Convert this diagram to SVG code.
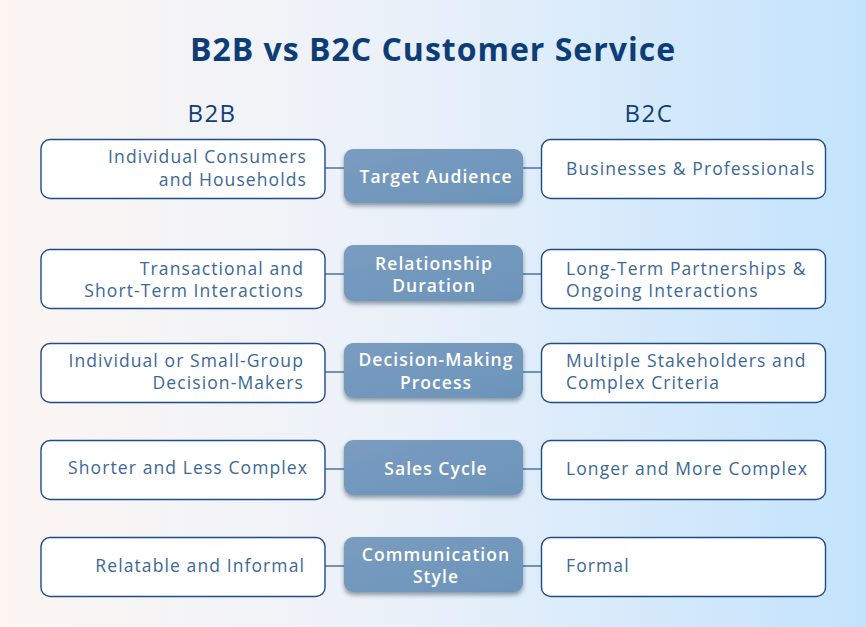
<svg xmlns="http://www.w3.org/2000/svg" width="866" height="627" viewBox="0 0 866 627">
<defs>
<linearGradient id="bg" x1="0" y1="0" x2="1" y2="0">
<stop offset="0" stop-color="#fdf6f3"/>
<stop offset="0.45" stop-color="#ebf1f9"/>
<stop offset="1" stop-color="#c3e3fc"/>
</linearGradient>
<linearGradient id="mid" x1="0" y1="0" x2="1" y2="1">
<stop offset="0" stop-color="#7a9cc0"/>
<stop offset="1" stop-color="#6c94ba"/>
</linearGradient>
<filter id="sh" x="-10%" y="-20%" width="120%" height="150%">
<feDropShadow dx="0" dy="3" stdDeviation="2.2" flood-color="#1b2b40" flood-opacity="0.45"/>
</filter>
<style>
.box{fill:#ffffff;stroke:#1d4c86;stroke-width:1.4}
.mbox{fill:url(#mid);filter:url(#sh)}
.con{stroke:#4a74a3;stroke-width:1.5;fill:none}
.t{font-family:"Open Sans","Noto Sans",sans-serif;font-size:17.5px;fill:#3c6896;letter-spacing:1.1px}
.l{text-anchor:end}
.m{font-family:"Open Sans","Noto Sans",sans-serif;font-size:17.5px;font-weight:600;fill:#ffffff;text-anchor:middle;letter-spacing:1.05px}
.h{font-family:"Open Sans","Noto Sans",sans-serif;font-size:24px;font-weight:500;fill:#0f3f78;text-anchor:middle;letter-spacing:1.5px}
.title{font-family:"Open Sans","Noto Sans",sans-serif;font-size:32px;font-weight:700;fill:#0d3d77;text-anchor:middle;letter-spacing:1px}
</style>
</defs>
<rect x="0" y="0" width="866" height="627" fill="url(#bg)"/>
<text class="title" x="433" y="61">B2B vs B2C Customer Service</text>
<text class="h" x="212" y="122">B2B</text>
<text class="h" x="649" y="122">B2C</text>

<g id="connectors">
<line class="con" x1="325" y1="168" x2="344" y2="168"/>
<line class="con" x1="523" y1="168" x2="541" y2="168"/>
<line class="con" x1="325" y1="274" x2="344" y2="274"/>
<line class="con" x1="523" y1="274" x2="541" y2="274"/>
<line class="con" x1="325" y1="372" x2="344" y2="372"/>
<line class="con" x1="523" y1="372" x2="541" y2="372"/>
<line class="con" x1="325" y1="469" x2="344" y2="469"/>
<line class="con" x1="523" y1="469" x2="541" y2="469"/>
<line class="con" x1="325" y1="566" x2="344" y2="566"/>
<line class="con" x1="523" y1="566" x2="541" y2="566"/>
</g>

<g id="b2b-audience">
<rect class="box" x="41" y="139.5" width="284" height="59" rx="9"/>
<text class="t l" x="307" y="163">Individual Consumers</text>
<text class="t l" x="307" y="186">and Households</text>
</g>
<g id="target-audience">
<rect class="mbox" x="344" y="149" width="179" height="54" rx="9"/>
<text class="m" x="436" y="183">Target Audience</text>
</g>
<g id="b2c-audience">
<rect class="box" x="541.5" y="139.5" width="284" height="59" rx="9"/>
<text class="t" x="566" y="175">Businesses &amp; Professionals</text>
</g>

<g id="b2b-relationship">
<rect class="box" x="41" y="249.5" width="284" height="59" rx="9"/>
<text class="t l" x="304" y="275">Transactional and</text>
<text class="t l" x="304" y="297">Short-Term Interactions</text>
</g>
<g id="relationship-duration">
<rect class="mbox" x="344" y="245" width="179" height="56" rx="9"/>
<text class="m" x="434" y="270">Relationship</text>
<text class="m" x="434" y="292">Duration</text>
</g>
<g id="b2c-relationship">
<rect class="box" x="541.5" y="249.5" width="284" height="59" rx="9"/>
<text class="t" x="566" y="275">Long-Term Partnerships &amp;</text>
<text class="t" x="566" y="297">Ongoing Interactions</text>
</g>

<g id="b2b-decision">
<rect class="box" x="41" y="343.5" width="284" height="59" rx="9"/>
<text class="t l" x="304" y="367">Individual or Small-Group</text>
<text class="t l" x="304" y="389">Decision-Makers</text>
</g>
<g id="decision-making">
<rect class="mbox" x="344" y="343" width="179" height="55" rx="9"/>
<text class="m" x="436" y="366">Decision-Making</text>
<text class="m" x="436" y="389">Process</text>
</g>
<g id="b2c-decision">
<rect class="box" x="541.5" y="343.5" width="284" height="59" rx="9"/>
<text class="t" x="566" y="367">Multiple Stakeholders and</text>
<text class="t" x="566" y="389">Complex Criteria</text>
</g>

<g id="b2b-sales">
<rect class="box" x="41" y="440.5" width="284" height="59" rx="9"/>
<text class="t l" x="308" y="474">Shorter and Less Complex</text>
</g>
<g id="sales-cycle">
<rect class="mbox" x="344" y="440" width="179" height="55" rx="9"/>
<text class="m" x="436" y="475">Sales Cycle</text>
</g>
<g id="b2c-sales">
<rect class="box" x="541.5" y="440.5" width="284" height="59" rx="9"/>
<text class="t" x="566" y="475">Longer and More Complex</text>
</g>

<g id="b2b-communication">
<rect class="box" x="41" y="537.5" width="284" height="59" rx="9"/>
<text class="t l" x="305" y="572">Relatable and Informal</text>
</g>
<g id="communication-style">
<rect class="mbox" x="344" y="537" width="179" height="55" rx="9"/>
<text class="m" x="436" y="561">Communication</text>
<text class="m" x="436" y="583">Style</text>
</g>
<g id="b2c-communication">
<rect class="box" x="541.5" y="537.5" width="284" height="59" rx="9"/>
<text class="t" x="566" y="572">Formal</text>
</g>
</svg>
